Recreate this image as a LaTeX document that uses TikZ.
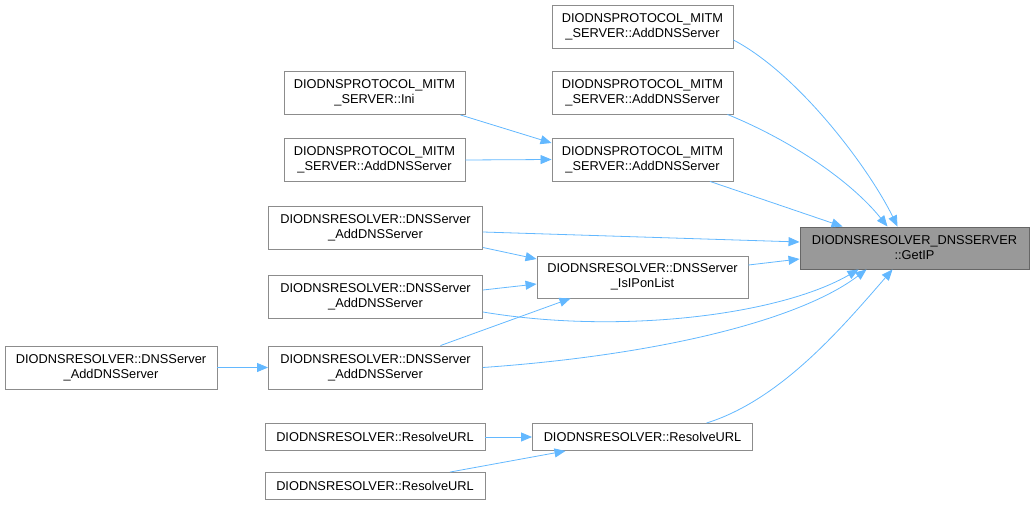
\documentclass[tikz,border=0pt]{standalone}
\usepackage{fontspec}
\setmainfont{Liberation Sans}
\usetikzlibrary{arrows.meta}

\definecolor{edgeblue}{HTML}{63B8FF}
\definecolor{boxline}{HTML}{8C8C8C}
\definecolor{mainfill}{HTML}{999999}
\definecolor{mainline}{HTML}{666666}

\tikzstyle{block} = [rectangle, draw=boxline, line width=0.9pt, fill=white, align=center, inner sep=0pt,
    font=\fontsize{12.8}{15}\selectfont, minimum height=43pt]
\tikzstyle{mitm} = [block, minimum width=181pt]
\tikzstyle{dns} = [block, minimum width=214pt]
\tikzstyle{resolve} = [block, minimum width=220pt, minimum height=27pt]
\tikzstyle{target} = [block, draw=mainline, fill=mainfill, minimum width=229pt, minimum height=42pt]
\tikzstyle{line} = [draw=edgeblue, line width=0.8pt, -{Triangle[length=11pt,width=9pt]}]

\begin{document}
\begin{tikzpicture}[x=1pt, y=-1pt]
    \useasboundingbox (0,0) rectangle (1035,505);
    % Place nodes
    \node [target] (getip) at (914.5,248) {DIODNSRESOLVER\_DNSSERVER\\::GetIP};
    \node [mitm] (addA) at (642.5,26.5) {DIODNSPROTOCOL\_MITM\\\_SERVER::AddDNSServer};
    \node [mitm] (addB) at (642.5,92.5) {DIODNSPROTOCOL\_MITM\\\_SERVER::AddDNSServer};
    \node [mitm] (addC) at (642.5,159.5) {DIODNSPROTOCOL\_MITM\\\_SERVER::AddDNSServer};
    \node [mitm] (ini) at (374.5,93) {DIODNSPROTOCOL\_MITM\\\_SERVER::Ini};
    \node [mitm] (addD) at (374.5,160) {DIODNSPROTOCOL\_MITM\\\_SERVER::AddDNSServer};
    \node [dns] (dnsA) at (375.5,227.5) {DIODNSRESOLVER::DNSServer\\\_AddDNSServer};
    \node [dns, minimum width=211pt, minimum height=42pt] (isip) at (642.5,277) {DIODNSRESOLVER::DNSServer\\\_IsIPonList};
    \node [dns] (dnsB) at (375.5,297) {DIODNSRESOLVER::DNSServer\\\_AddDNSServer};
    \node [dns] (dnsC) at (375.5,367.5) {DIODNSRESOLVER::DNSServer\\\_AddDNSServer};
    \node [dns, minimum width=212pt] (dnsD) at (111,367.5) {DIODNSRESOLVER::DNSServer\\\_AddDNSServer};
    \node [resolve] (resC) at (642.5,437) {DIODNSRESOLVER::ResolveURL};
    \node [resolve] (resA) at (375,437) {DIODNSRESOLVER::ResolveURL};
    \node [resolve] (resB) at (375,486) {DIODNSRESOLVER::ResolveURL};

    % Draw edges
    \path [line] ([yshift=-13.5pt]addA.east) .. controls (800,75) and (870,170) .. ([xshift=-17pt]getip.north);
    \path [line] ([xshift=-6pt]addB.south east) .. controls (790,140) and (850,180) .. ([xshift=-27pt]getip.north);
    \path [line] ([xshift=67.5pt]addC.south) -- ([xshift=43pt]getip.north west);
    \path [line] ([xshift=-5pt]ini.south east) -- ([yshift=16.5pt]addC.west);
    \path [line] (addD.east) -- (addC.west);
    \path [line] ([yshift=-4.5pt]dnsA.east) -- ([yshift=6pt]getip.west);
    \path [line] ([yshift=-20pt]dnsA.east) -- ([yshift=18pt]isip.west);
    \path [line] ([yshift=12pt]isip.east) -- ([yshift=-11pt]getip.west);
    \path [line] ([yshift=7pt]dnsB.east) -- ([yshift=-7pt]isip.west);
    \path [line] ([yshift=-15pt]dnsB.east) .. controls (620,335) and (780,315) .. ([xshift=-56pt]getip.south);
    \path [line] ([xshift=65pt]dnsC.north) -- ([xshift=-72pt]isip.south);
    \path [line] (dnsC.east) .. controls (660,355) and (800,320) .. ([xshift=-48pt]getip.south);
    \path [line] (dnsD.east) -- (dnsC.west);
    \path [line] ([xshift=64pt]resC.north) .. controls (780,400) and (840,330) .. ([xshift=-22pt]getip.south);
    \path [line] (resA.east) -- (resC.west);
    \path [line] ([xshift=75pt]resB.north) -- ([xshift=-77pt]resC.south);

\end{tikzpicture}
\end{document}
